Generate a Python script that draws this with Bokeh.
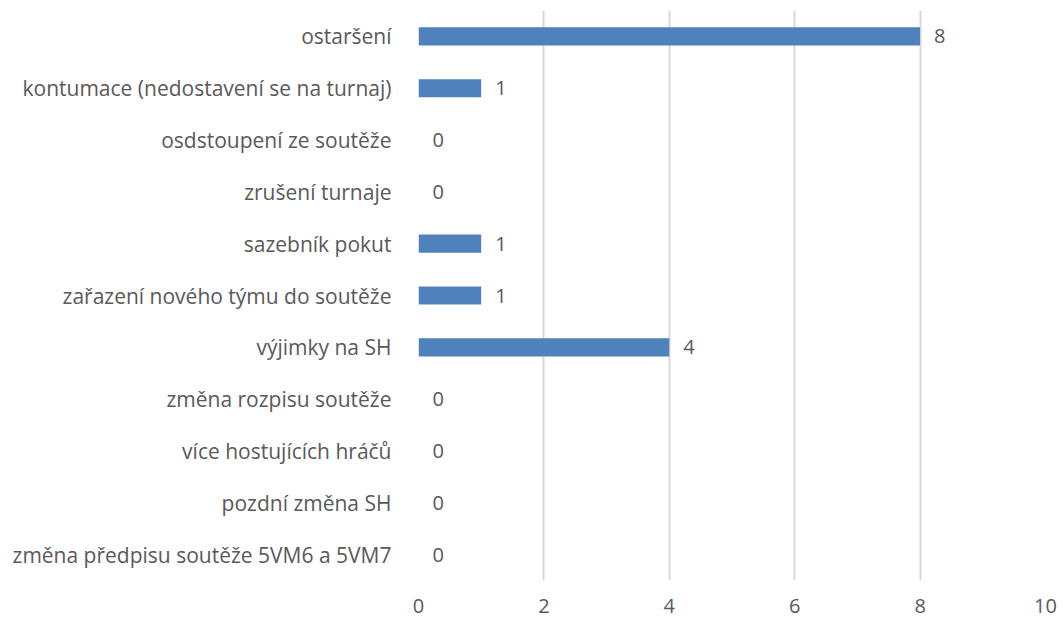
from bokeh.plotting import figure
from bokeh.models import ColumnDataSource, FactorRange, LabelSet
from bokeh.core.properties import value
from bokeh.embed import file_html
from bokeh.resources import INLINE

categories = [
    "ostaršení",
    "kontumace (nedostavení se na turnaj)",
    "osdstoupení ze soutěže",
    "zrušení turnaje",
    "sazebník pokut",
    "zařazení nového týmu do soutěže",
    "výjimky na SH",
    "změna rozpisu soutěže",
    "více hostujících hráčů",
    "pozdní změna SH",
    "změna předpisu soutěže 5VM6 a 5VM7",
]
values = [8, 1, 0, 0, 1, 1, 4, 0, 0, 0, 0]
x_ticks = [0, 2, 4, 6, 8, 10]

FONT = "Open Sans"
TXT = "#595959"
FS = "20px"

src = ColumnDataSource(dict(cat=categories, val=values, lab=[str(v) for v in values]))

p = figure(width=1063, height=621, output_backend="svg", toolbar_location=None,
           y_range=FactorRange(*reversed(categories), range_padding=0),
           x_range=(0, 10), min_border_left=418, min_border_right=18,
           min_border_top=10, min_border_bottom=41)
p.outline_line_color = None
p.hbar(y="cat", right="val", left=0, height=0.35, source=src,
       fill_color="#4f81bd", line_color=None)

labels = LabelSet(x="val", y="cat", text="lab", source=src, x_offset=14,
                  text_align="left", text_baseline="middle",
                  text_font=value(FONT), text_font_size=FS, text_color=TXT)
p.add_layout(labels)

p.xaxis.ticker = x_ticks
p.xaxis.axis_line_color = None
p.xaxis.major_tick_line_color = None
p.xaxis.minor_tick_line_color = None
p.xaxis.major_label_text_font = FONT
p.xaxis.major_label_text_font_size = FS
p.xaxis.major_label_text_color = TXT
p.xaxis.major_label_standoff = 12

p.yaxis.axis_line_color = None
p.yaxis.major_tick_line_color = None
p.yaxis.major_label_text_font = FONT
p.yaxis.major_label_text_font_size = "21px"
p.yaxis.major_label_text_color = TXT
p.yaxis.major_label_standoff = 21

p.xgrid.grid_line_color = "#d9d9d9"
p.xgrid.grid_line_width = 2
p.xgrid.ticker = x_ticks
p.ygrid.grid_line_color = None

open("out.html", "w").write(file_html(p, INLINE))
